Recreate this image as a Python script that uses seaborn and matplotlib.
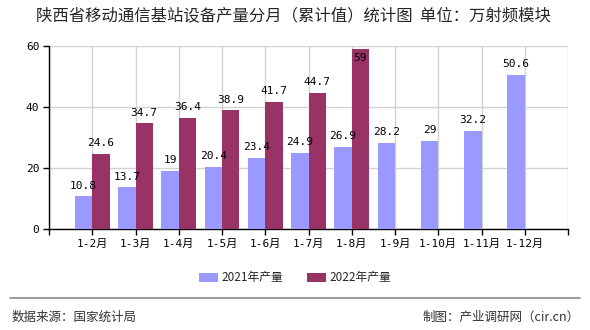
import numpy as np
import pandas as pd
import matplotlib
matplotlib.use("Agg")
import matplotlib.pyplot as plt
import seaborn as sns
from matplotlib.patches import Patch

months = ["1-2月", "1-3月", "1-4月", "1-5月", "1-6月", "1-7月", "1-8月",
          "1-9月", "1-10月", "1-11月", "1-12月"]
vals_2021 = [10.8, 13.7, 19, 20.4, 23.4, 24.9, 26.9, 28.2, 29, 32.2, 50.6]
vals_2022 = [24.6, 34.7, 36.4, 38.9, 41.7, 44.7, 59, None, None, None, None]
series = ["2021年产量", "2022年产量"]
colors = ["#9999FF", "#993366"]
yticks = [0, 20, 40, 60]

sns.set_theme(style="white")
plt.rcParams['font.family'] = ['DejaVu Sans Mono', 'Noto Sans CJK SC']

rows = []
for m, a, b in zip(months, vals_2021, vals_2022):
    rows.append({"month": m, "series": series[0], "value": a})
    rows.append({"month": m, "series": series[1], "value": np.nan if b is None else b})
df = pd.DataFrame(rows)

fig = plt.figure(figsize=(5.9, 3.3), dpi=100)
ax = fig.add_axes([49/590, 1-229/330, (568-49)/590, (229-46)/330])

sns.barplot(data=df, x="month", y="value", hue="series", order=months,
            hue_order=series, palette=colors, width=0.8, saturation=1,
            ax=ax, legend=False, zorder=3, linewidth=0, edgecolor="none")

ax.set_xlim(-1, len(months))
ax.set_ylim(0, 60)
ax.set_xticks(range(-1, len(months) + 1))
ax.set_xticklabels([""] + months + [""])
ax.set_yticks(yticks)
ax.set_yticklabels([str(t) for t in yticks])
ax.set_xlabel("")
ax.set_ylabel("")
ax.grid(True, color="#d3d3d3", linewidth=1, zorder=0)
ax.set_axisbelow(True)
for s in ["top", "right"]:
    ax.spines[s].set_visible(False)
for s in ["left", "bottom"]:
    ax.spines[s].set_color("black")
    ax.spines[s].set_linewidth(1)
ax.tick_params(axis="both", which="both", length=4, width=1, color="black",
               labelsize=8, labelcolor="black", pad=3, direction="out",
               bottom=True, left=True)
for lbl in ax.get_xticklabels():
    lbl.set_fontfamily(['DejaVu Sans Mono', 'Noto Sans CJK SC'])

# data labels
for cont, vals in zip(ax.containers, [vals_2021, vals_2022]):
    for bar, v in zip(cont, vals):
        if v is None:
            continue
        x = bar.get_x() + bar.get_width() / 2
        h = bar.get_height()
        txt = f"{v:g}"
        if h + 4 > 60:
            ax.annotate(txt, (x, h), xytext=(0, -3), textcoords="offset points",
                        ha="center", va="top", fontsize=8, color="black", zorder=5)
        else:
            ax.annotate(txt, (x, h), xytext=(0, 4), textcoords="offset points",
                        ha="center", va="bottom", fontsize=8, color="black", zorder=5)

fig.text(36/590, 1-16/330, "陕西省移动通信基站设备产量分月（累计值）统计图  单位：万射频模块",
         ha="left", va="center", fontsize=11.8, family=['Noto Sans CJK SC'])

handles = [Patch(facecolor=c, edgecolor="none") for c in colors]
fig.legend(handles, series, loc="center", bbox_to_anchor=(0.5, 1-278/330),
           ncol=2, frameon=False, handlelength=1.6, handleheight=0.8,
           columnspacing=2.0, handletextpad=0.3,
           prop={'family': ['Noto Sans CJK SC'], 'size': 8.5})

fig.add_artist(plt.Line2D([10/590, 580/590], [1-298/330, 1-298/330],
                          color="#888888", linewidth=1.2, transform=fig.transFigure))
fig.text(12/590, 1-317/330, "数据来源：国家统计局", ha="left", va="center",
         fontsize=9, color="#333333", family=['Noto Sans CJK SC'])
fig.text(580/590, 1-317/330, "制图：产业调研网（cir.cn）", ha="right", va="center",
         fontsize=9, color="#333333", family=['Noto Sans CJK SC'])

fig.savefig("out.png", dpi=100)
